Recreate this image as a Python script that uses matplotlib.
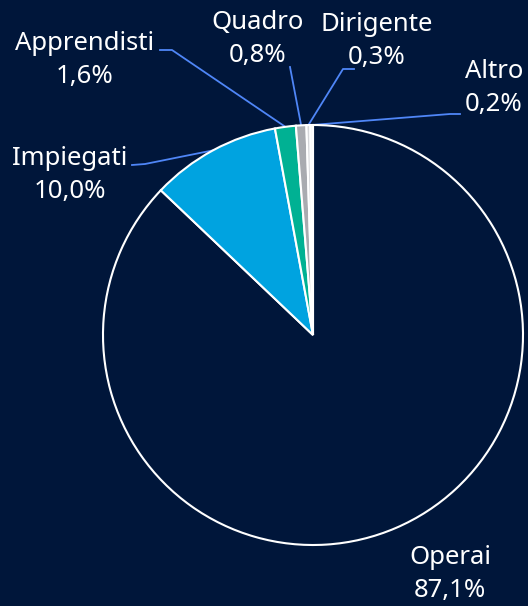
import numpy as np
import matplotlib
matplotlib.use("Agg")
import matplotlib.pyplot as plt

# Data
categories = ["Operai", "Impiegati", "Apprendisti", "Quadro", "Dirigente", "Altro"]
shares = [87.1, 10.0, 1.6, 0.8, 0.3, 0.2]
labels = ["87,1%", "10,0%", "1,6%", "0,8%", "0,3%", "0,2%"]

# Styling
BG = "#00163a"
colors = [BG, "#00a3e0", "#00b193", "#a9abb0", "#d6d7da", "#f4f4f4"]
LINE = "#4f86f7"

W, H = 528, 606
CX, CY, R = 313, 335, 210  # pixel coords (y from top)

# label text centres (pixels) and connector knee points
label_pos = {
    "Operai": (450, 574),
    "Impiegati": (70, 175),
    "Apprendisti": (85, 60),
    "Quadro": (258, 39),
    "Dirigente": (377, 41),
    "Altro": (494, 88),
}
connectors = {
    "Impiegati": [(132, 165), (145, 164)],
    "Apprendisti": [(160, 50), (172, 50)],
    "Quadro": [(290, 67)],
    "Dirigente": [(354, 69), (343, 69)],
    "Altro": [(460, 114), (450, 114)],
}


def to_data(px, py):
    return px, H - py


fig = plt.figure(figsize=(W / 100, H / 100), dpi=100, facecolor=BG)
ax = fig.add_axes([0, 0, 1, 1])
ax.set_facecolor(BG)

cx, cy = to_data(CX, CY)
wedges, _ = ax.pie(
    shares,
    colors=colors,
    startangle=90,
    counterclock=False,
    center=(cx, cy),
    radius=R,
    wedgeprops=dict(edgecolor="white", linewidth=1.5),
    frame=True,
)
ax.set_xlim(0, W)
ax.set_ylim(0, H)
ax.set_aspect("equal")
ax.axis("off")

font = ["Noto Sans", "DejaVu Sans"]
for cat, lab, w in zip(categories, labels, wedges):
    tx, ty = label_pos[cat]
    ax.text(tx, H - ty, f"{cat}\n{lab}", color="white", fontsize=18.5,
            family=font, ha="center", va="center", linespacing=1.4)
    if cat in connectors:
        mid = np.deg2rad((w.theta1 + w.theta2) / 2)
        ex, ey = cx + R * np.cos(mid), cy + R * np.sin(mid)
        pts = [to_data(*p) for p in connectors[cat]] + [(ex, ey)]
        xs, ys = zip(*pts)
        ax.plot(xs, ys, color=LINE, linewidth=1.3, zorder=0.5)

fig.savefig("out.png", dpi=100, facecolor=BG)
